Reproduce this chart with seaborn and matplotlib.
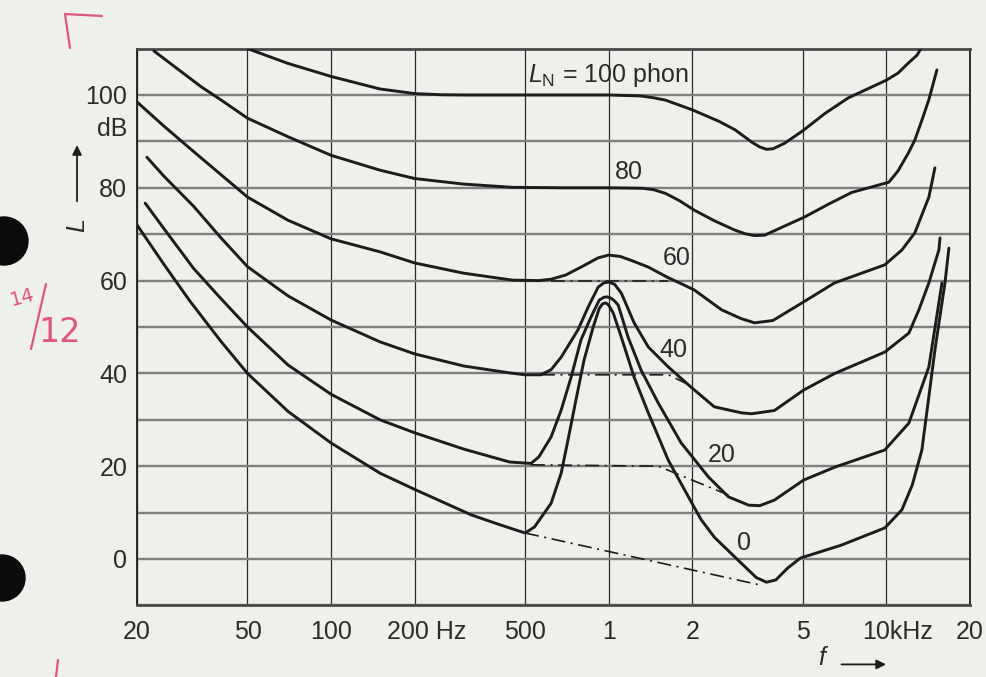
import pandas as pd
import matplotlib
matplotlib.use('Agg')
import matplotlib.pyplot as plt
import seaborn as sns
from matplotlib.patches import Circle
from matplotlib.lines import Line2D
from matplotlib.ticker import NullLocator

sns.set_theme(style='white')
plt.rcParams['font.family'] = ['Liberation Sans', 'DejaVu Sans']
plt.rcParams['mathtext.fontset'] = 'custom'
plt.rcParams['mathtext.rm'] = 'Liberation Sans'
plt.rcParams['mathtext.it'] = 'Liberation Sans:italic'
plt.rcParams['lines.scale_dashes'] = False

paper = '#eef0eb'
ink = '#1c1c1c'
red = '#e2557d'

# Kurven gleicher Lautstaerke, f in Hz, L in dB
f_100 = [50, 70, 100, 150, 200, 250, 300, 500, 1000, 1300, 1450, 1600, 2000, 2500, 2850, 3300, 3500, 3700, 3900, 4300, 5000, 6000, 7300, 10000, 11000, 12000, 12900, 13300]
L_100 = [110, 106.8, 104, 101.3, 100.3, 100.05, 100, 100, 100, 99.8, 99.4, 98.9, 96.8, 94.3, 92.5, 89.7, 88.8, 88.3, 88.4, 89.6, 92.3, 96, 99.4, 103.2, 104.7, 106.9, 108.6, 110]

f_80 = [23, 34, 40, 50, 70, 100, 150, 200, 300, 450, 700, 1000, 1320, 1450, 1600, 1800, 2030, 2400, 2840, 3100, 3350, 3650, 4000, 5070, 6200, 7500, 10200, 11000, 12000, 12660, 13500, 14220, 15200]
L_80 = [109.5, 101.8, 99, 95, 91, 87, 83.8, 82, 80.8, 80.1, 80, 80, 79.9, 79.6, 78.8, 77.2, 75.2, 72.9, 70.9, 70.1, 69.7, 69.8, 70.9, 73.7, 76.5, 79, 81.2, 83.6, 87.5, 90.3, 95, 99, 105.4]

f_60 = [20, 25, 31, 40, 50, 70, 100, 150, 200, 300, 450, 560, 620, 700, 794, 916, 1000, 1100, 1200, 1390, 1640, 1800, 2030, 2550, 3000, 3350, 3900, 5000, 6500, 9870, 11370, 12660, 14220, 14950]
L_60 = [98.5, 93.3, 88.5, 82.9, 78, 73, 69, 66.2, 63.8, 61.6, 60.1, 60, 60.3, 61.2, 62.9, 64.9, 65.5, 65.2, 64.4, 62.9, 60.6, 59.5, 58, 53.7, 51.8, 50.9, 51.4, 55.3, 59.5, 63.4, 66.6, 70.3, 78, 84.3]

f_40 = [21.7, 25, 32, 40, 50, 70, 100, 150, 200, 300, 440, 500, 570, 620, 674, 775, 843, 916, 960, 1000, 1050, 1110, 1234, 1388, 1638, 1982, 2400, 3006, 3270, 3950, 5030, 6520, 9870, 12050, 13090, 14220, 15450, 15600]
L_40 = [86.6, 82.5, 76, 69.3, 63, 56.7, 51.5, 46.8, 44.2, 41.6, 40.1, 39.7, 39.7, 40.8, 43.5, 49.4, 54.3, 58.6, 59.5, 59.7, 59.2, 57.3, 50.9, 45.7, 41.4, 37, 32.8, 31.5, 31.3, 32, 36.4, 40, 44.6, 48.7, 53.7, 59.5, 66.6, 69.2]

f_20 = [21.4, 25, 32, 40, 50, 70, 100, 150, 200, 300, 440, 525, 560, 620, 674, 732, 794, 864, 924, 960, 987, 1020, 1050, 1082, 1174, 1308, 1508, 1824, 2284, 2698, 3190, 3500, 3950, 5030, 6520, 9870, 12050, 14220, 15850]
L_20 = [76.7, 71.2, 62.6, 56.2, 50, 41.8, 35.5, 30, 27.2, 23.7, 20.9, 20.6, 22, 26.3, 32.1, 39.2, 47.2, 52.2, 55.8, 56.4, 56.5, 56.2, 55.6, 54.7, 47.8, 40.7, 33.6, 25, 17.7, 13.4, 11.6, 11.5, 12.7, 17, 19.8, 23.5, 29.3, 41.4, 59.5]

f_0 = [20, 25, 31, 40, 50, 70, 100, 150, 200, 320, 400, 500, 540, 620, 674, 713, 762, 815, 879, 924, 950, 975, 1000, 1038, 1110, 1234, 1388, 1638, 1936, 2150, 2400, 3000, 3400, 3700, 4000, 4400, 4900, 6890, 9870, 11370, 12400, 13420, 14950, 16250, 16790]
L_0 = [72, 63.5, 55.6, 47, 40, 31.8, 25, 18.5, 15, 9.5, 7.5, 5.6, 6.9, 12, 18.5, 25.6, 34.3, 42.9, 50, 54, 55, 55.2, 54.7, 53, 47.8, 39.2, 31.5, 21.3, 13.4, 8.5, 4.7, -0.9, -4, -5, -4.5, -2, 0.2, 3, 6.7, 10.6, 16, 23.5, 45, 59.5, 67]

# strichpunktierte Kurven (ohne Stoerton)
fd_60 = [620, 1640]
Ld_60 = [60, 60]
fd_40 = [570, 1640, 1982]
Ld_40 = [39.7, 39.7, 37.3]
fd_20 = [525, 1508, 2698]
Ld_20 = [20.3, 20, 13.8]
fd_0 = [500, 3450]
Ld_0 = [5.6, -5.5]

curve_labels = ['80', '60', '40', '20', '0']
label_f = [1186, 1750, 1708, 2545, 3080]
label_L = [83.4, 64.9, 45, 22.4, 3.4]

x_ticks = [20, 50, 100, 200, 500, 1000, 2000, 5000, 10000, 20000]
x_ticklabels = ['20', '50', '100', '200 Hz', '500', '1', '2', '5', '10kHz', '20']
y_ticks = [0, 20, 40, 60, 80, 100]

fig = plt.figure(figsize=(9.87, 6.77), dpi=100, facecolor=paper)
ax = fig.add_axes([137 / 987, (677 - 605.4) / 677, 833 / 987, 556.8 / 677])
ax.set_facecolor(paper)
ax.set_xscale('log')

solid = [(f_100, L_100), (f_80, L_80), (f_60, L_60), (f_40, L_40), (f_20, L_20), (f_0, L_0)]
for fx, Ly in solid:
    sns.lineplot(data=pd.DataFrame({'f': fx, 'L': Ly}), x='f', y='L', ax=ax,
                 color=ink, lw=2.1, sort=False, estimator=None, zorder=3,
                 solid_joinstyle='round', solid_capstyle='round')

dashed = [(fd_60, Ld_60), (fd_40, Ld_40), (fd_20, Ld_20), (fd_0, Ld_0)]
for fx, Ly in dashed:
    sns.lineplot(data=pd.DataFrame({'f': fx, 'L': Ly}), x='f', y='L', ax=ax,
                 color=ink, lw=1.2, linestyle=(0, (10, 4, 1.5, 4)), sort=False,
                 estimator=None, zorder=3)

ax.set_xlim(20, 20000)
ax.set_ylim(-10, 110)
ax.set_xlabel('')
ax.set_ylabel('')

ax.set_xticks(x_ticks)
ax.set_xticklabels([''] * len(x_ticks))
ax.xaxis.set_minor_locator(NullLocator())
ax.set_yticks(y_ticks)
ax.set_yticklabels([str(v) for v in y_ticks])
ax.set_yticks(list(range(-10, 111, 20)), minor=True)
ax.tick_params(axis='both', which='both', length=0)
ax.tick_params(axis='y', labelsize=18, pad=7, labelcolor='#2b2b2b')

ax.set_axisbelow(True)
ax.grid(axis='y', which='both', color='#808080', lw=1.7)
ax.grid(axis='x', which='major', color='#2a2a2a', lw=0.9)
for side in ['left', 'right']:
    ax.spines[side].set_color(ink)
    ax.spines[side].set_linewidth(1.3)
for side in ['top', 'bottom']:
    ax.spines[side].set_color('#4a4a4a')
    ax.spines[side].set_linewidth(2.0)

# x-Beschriftung
xt = ax.get_xaxis_transform()
for v, lab in zip(x_ticks, x_ticklabels):
    if lab == '200 Hz':
        ax.text(159, -0.048, lab, transform=xt, ha='left', va='center', fontsize=18, color='#2b2b2b')
    elif lab == '10kHz':
        ax.text(8150, -0.048, lab, transform=xt, ha='left', va='center', fontsize=18, color='#2b2b2b')
    else:
        ax.text(v, -0.048, lab, transform=xt, ha='center', va='center', fontsize=18, color='#2b2b2b')
ax.text(5850, -0.095, 'f', transform=xt, ha='center', va='center', fontsize=18,
        style='italic', color='#2b2b2b')
ax.annotate('', xy=(10200, -0.106), xytext=(6730, -0.106), xycoords=xt, textcoords=xt,
            arrowprops=dict(arrowstyle='-|>', color=ink, lw=1.3, mutation_scale=14))

# y-Beschriftung
yt = ax.get_yaxis_transform()
ax.text(-0.012, 92.7, 'dB', transform=yt, ha='right', va='center', fontsize=18, color='#2b2b2b')
ax.annotate('', xy=(-0.072, 89.8), xytext=(-0.072, 76.5), xycoords=yt, textcoords=yt,
            arrowprops=dict(arrowstyle='-|>', color=ink, lw=1.3, mutation_scale=14))
ax.text(-0.072, 72, 'L', transform=yt, ha='center', va='center', fontsize=18,
        style='italic', rotation=90, color='#2b2b2b')

# Kurvenbeschriftung
ax.text(512, 104.3, r'$\mathit{L}_{\mathrm{N}}$ = 100 phon', ha='left', va='center',
        fontsize=18, color='#2b2b2b')
for lab, fx, Ly in zip(curve_labels, label_f, label_L):
    ax.text(fx, Ly, lab, ha='center', va='center', fontsize=18, color='#2b2b2b')

# Lochung und Randnotizen
px = fig.dpi_scale_trans
fig.patches.append(Circle((0.04, (677 - 241) / 100), 0.24, transform=px, color='#0b0b0b'))
fig.patches.append(Circle((0.02, (677 - 578) / 100), 0.23, transform=px, color='#0b0b0b'))
fig.lines.append(Line2D([0.65, 1.02], [6.63, 6.61], transform=px, color=red, lw=1.6))
fig.lines.append(Line2D([0.65, 0.70], [6.63, 6.29], transform=px, color=red, lw=1.6))
fig.lines.append(Line2D([0.58, 0.56], [0.17, 0.0], transform=px, color=red, lw=1.6))
fig.text(0.22, 3.80, '14', transform=px, color=red, fontsize=14, rotation=15,
         ha='center', va='center', family='DejaVu Sans')
fig.lines.append(Line2D([0.46, 0.31], [3.93, 3.28], transform=px, color=red, lw=1.6))
fig.text(0.60, 3.44, '12', transform=px, color=red, fontsize=24,
         ha='center', va='center', family='DejaVu Sans')

fig.savefig('out.png', dpi=100, facecolor=paper)
